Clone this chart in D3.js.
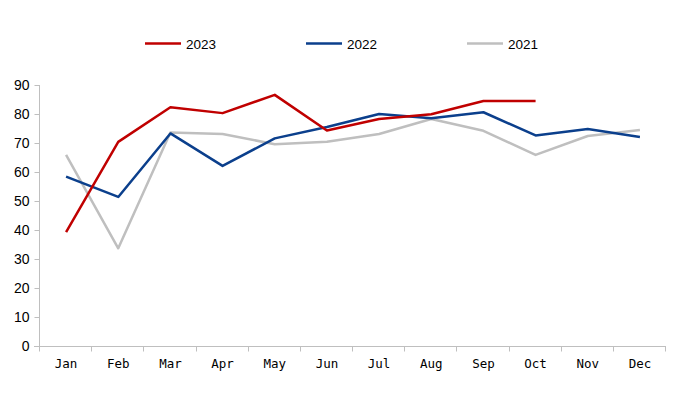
<!DOCTYPE html>
<html><head><meta charset="utf-8">
<script src="https://cdn.jsdelivr.net/npm/d3@7"></script>
<style>body{margin:0;background:#fff}svg{display:block}</style>
</head><body>
<svg id="c" width="687" height="393"></svg>
<script>
const months = ["Jan","Feb","Mar","Apr","May","Jun","Jul","Aug","Sep","Oct","Nov","Dec"];
const s2023 = [39.3,70.4,82.3,80.3,86.6,74.3,78.3,79.9,84.5,84.5,null,null];
const s2022 = [58.4,51.4,73.3,62.1,71.6,75.5,80.0,78.5,80.6,72.6,74.8,72.1];
const s2021 = [65.9,33.7,73.6,73.1,69.6,70.4,73.1,78.3,74.2,65.9,72.4,74.5];
const yTicks = [0,10,20,30,40,50,60,70,80,90];
const seriesNames = ["2023","2022","2021"];
const colors = ["#C00000","#0B3F8C","#BFBFBF"];

const svg = d3.select("#c");
const x = d3.scaleBand().domain(months).range([40,666]);
const y = d3.scaleLinear().domain([0,90]).range([346,85]);

// y axis
const ya = svg.append("g").attr("transform","translate(39.5,0)")
  .call(d3.axisLeft(y).tickValues(yTicks).tickSize(5).tickPadding(5));
ya.select(".domain").attr("stroke","#BFBFBF").attr("d","M0,85V346");
ya.selectAll(".tick line").attr("stroke","#BFBFBF");
ya.selectAll("text").attr("font-family","Liberation Sans, Arial, sans-serif").attr("font-size",14).attr("fill","#000");

// x axis
const xa = svg.append("g").attr("transform","translate(0,346.5)")
  .call(d3.axisBottom(x).tickSize(0).tickPadding(13));
xa.select(".domain").attr("stroke","#BFBFBF").attr("d","M34,0H666");
xa.selectAll("text").attr("font-family","DejaVu Sans Mono, monospace").attr("font-size",12.5).attr("fill","#000");
const bounds = months.map(m=>x(m)).concat([x.range()[1]]);
xa.selectAll(".bt").data(bounds).enter().append("line").attr("class","bt")
  .attr("x1",d=>Math.round(d)-0.5).attr("x2",d=>Math.round(d)-0.5).attr("y1",0).attr("y2",5).attr("stroke","#BFBFBF");

const data = [s2023,s2022,s2021];
const line = d3.line().defined(d=>d!=null).x((d,i)=>x(months[i])+x.bandwidth()/2).y(d=>y(d));
[2,1,0].forEach(k=>{
  svg.append("path").datum(data[k]).attr("d",line).attr("fill","none")
    .attr("stroke",colors[k]).attr("stroke-width",2.5).attr("stroke-linejoin","round");
});

// legend
const lx = [145,306,467];
seriesNames.forEach((n,i)=>{
  svg.append("line").attr("x1",lx[i]).attr("x2",lx[i]+36).attr("y1",43.5).attr("y2",43.5)
    .attr("stroke",colors[i]).attr("stroke-width",2.5);
  svg.append("text").attr("x",lx[i]+41).attr("y",48.5).text(n)
    .attr("font-family","Liberation Sans, Arial, sans-serif").attr("font-size",13.5).attr("fill","#000");
});
</script>
</body></html>
